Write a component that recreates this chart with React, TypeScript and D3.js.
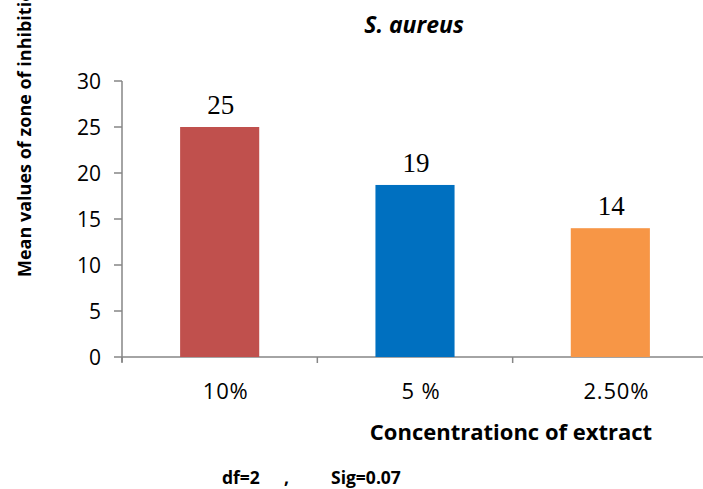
import React from "react";
import * as d3 from "d3";

const categories = ["10%", "5 %", "2.50%"];
const meanValues = [25, 18.7, 14];
const barColors = ["#c0504d", "#0070c0", "#f79646"];
const yTicks = [0, 5, 10, 15, 20, 25, 30];

const W = 703;
const H = 489;
const margin = { left: 122, right: -5, top: 81, bottom: 132 };

const sans = "'Open Sans', 'Liberation Sans', sans-serif";
const serif = "'Liberation Serif', serif";

export default function App() {
  const x = d3
    .scaleBand<string>()
    .domain(categories)
    .range([margin.left, W - margin.right])
    .paddingInner(0.595)
    .paddingOuter(0.2975);
  const y = d3.scaleLinear().domain([0, 30]).range([H - margin.bottom, margin.top]);
  const fmt = d3.format(".0f");

  const y0 = y(0);
  const step = x.step();
  const boundaries = d3.range(categories.length + 1).map((i) => margin.left + i * step);

  return (
    <svg
      width={W}
      height={H}
      style={{ position: "absolute", left: 0, top: 0, background: "#fff" }}
    >
      {/* title */}
      <text
        x={414}
        y={33}
        textAnchor="middle"
        fontFamily={sans}
        fontSize={23}
        fontWeight="bold"
        fontStyle="italic"
      >
        S. aureus
      </text>

      {/* y axis */}
      <line x1={margin.left} x2={margin.left} y1={y(30)} y2={y0 + 5} stroke="#868686" strokeWidth={1.5} />
      {yTicks.map((t) => (
        <g key={t}>
          <line x1={margin.left - 8} x2={margin.left} y1={y(t)} y2={y(t)} stroke="#868686" strokeWidth={1.5} />
          <text
            x={101}
            y={y(t)}
            dy="0.36em"
            textAnchor="end"
            fontFamily={sans}
            fontSize={21}
            fill="#000"
          >
            {t}
          </text>
        </g>
      ))}

      {/* x axis */}
      <line x1={margin.left} x2={W} y1={y0} y2={y0} stroke="#868686" strokeWidth={1.5} />
      {boundaries.map((b, i) => (
        <line key={i} x1={b} x2={b} y1={y0} y2={y0 + 6} stroke="#868686" strokeWidth={1.5} />
      ))}

      {/* bars */}
      {categories.map((c, i) => (
        <g key={c}>
          <rect
            x={x(c)}
            y={y(meanValues[i])}
            width={x.bandwidth()}
            height={y0 - y(meanValues[i])}
            fill={barColors[i]}
          />
          <text
            x={(x(c) ?? 0) + x.bandwidth() / 2 + 1}
            y={y(meanValues[i]) - 13}
            textAnchor="middle"
            fontFamily={serif}
            fontSize={27}
            fill="#000"
          >
            {fmt(meanValues[i])}
          </text>
          <text
            x={(x(c) ?? 0) + x.bandwidth() / 2 + 6}
            y={399}
            textAnchor="middle"
            fontFamily={sans}
            fontSize={22}
            letterSpacing={0.8}
            fill="#000"
          >
            {c}
          </text>
        </g>
      ))}

      {/* axis titles */}
      <text x={511} y={440} textAnchor="middle" fontFamily={sans} fontSize={22} fontWeight="bold">
        Concentrationc of extract
      </text>
      <text
        transform={`translate(31, 277) rotate(-90)`}
        textAnchor="start"
        fontFamily={sans}
        fontSize={18}
        fontWeight="bold"
      >
        Mean values of zone of inhibition
      </text>

      {/* test statistics */}
      <text x={222} y={484} fontFamily={sans} fontSize={17.5} fontWeight="bold">
        df=2
      </text>
      <text x={284} y={484} fontFamily={sans} fontSize={17.5} fontWeight="bold">
        ,
      </text>
      <text x={331} y={484} fontFamily={sans} fontSize={17.5} fontWeight="bold">
        Sig=0.07
      </text>
    </svg>
  );
}
